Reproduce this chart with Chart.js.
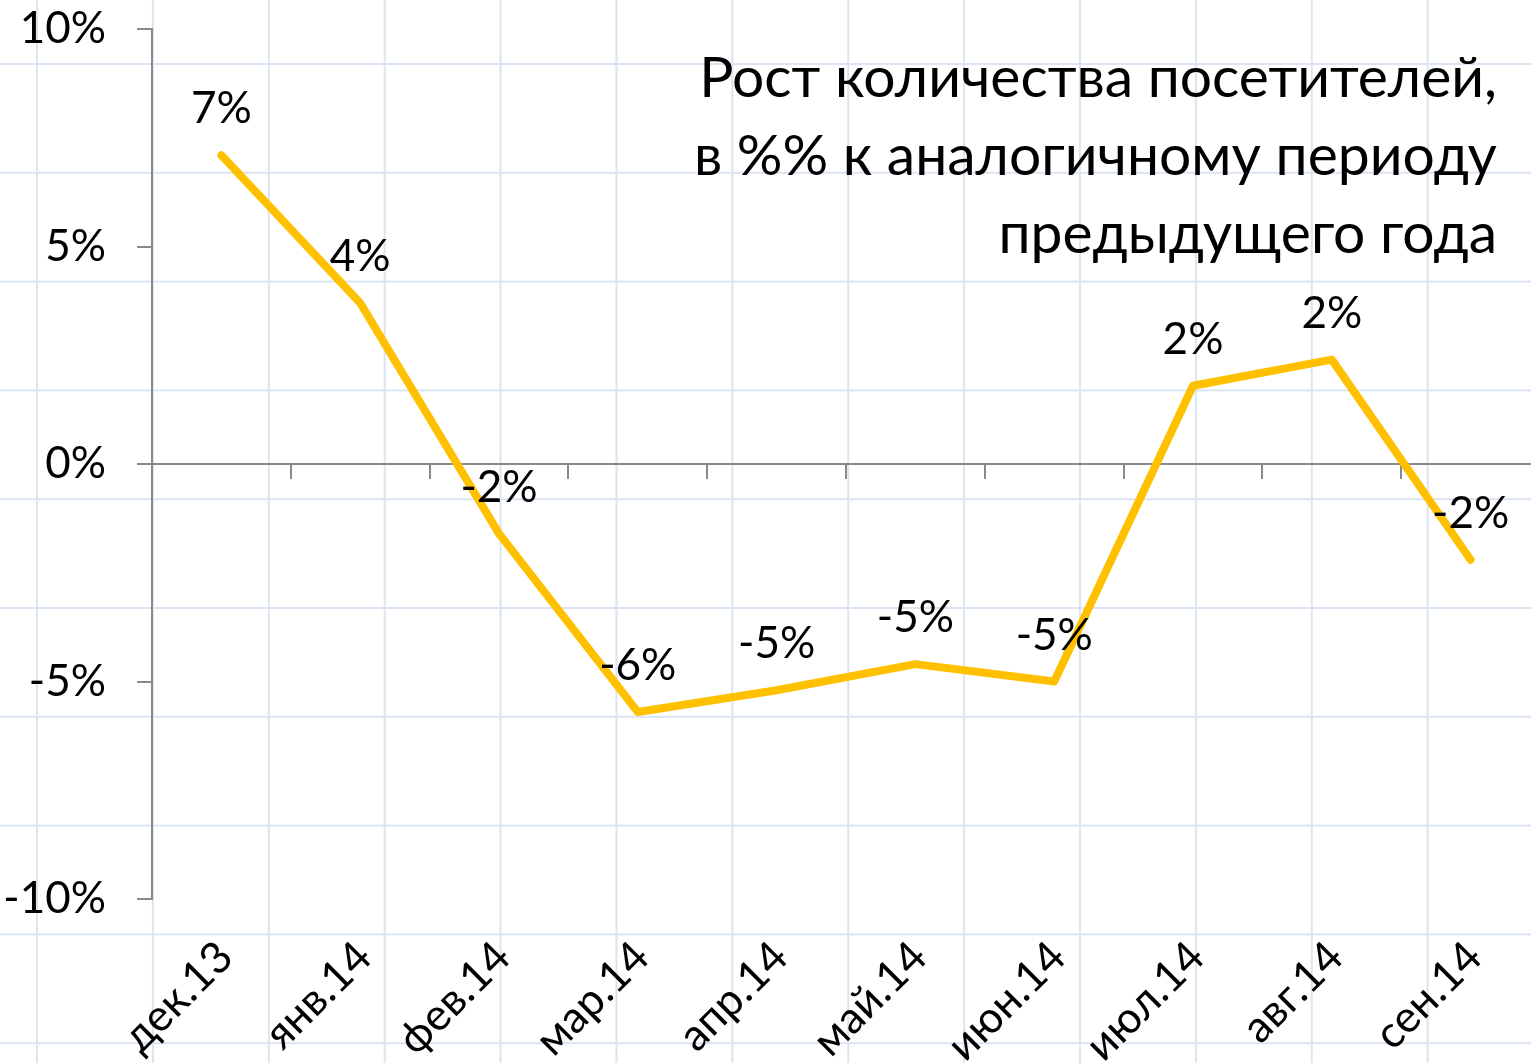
<!DOCTYPE html>
<html lang="ru">
<head>
  <meta charset="UTF-8">
  <title>Рост количества посетителей</title>
  <script src="https://cdn.jsdelivr.net/npm/chart.js"></script>
  <style>
    * {
      box-sizing: border-box;
      margin: 0;
      padding: 0;
    }
    body {
      width: 1531px;
      height: 1063px;
      overflow: hidden;
      position: relative;
      background-color: #fff;
      /* worksheet cell lines behind the chart */
      background-image:
        linear-gradient(to right, #dbe4f2 2px, transparent 2px),
        linear-gradient(to bottom, #dbe4f2 2px, transparent 2px);
      background-size: 115.9px 108.8px;
      background-position: 36px 63px;
      font-family: Lato, 'Noto Sans', sans-serif;
    }
    #chart-box {
      position: absolute;
      left: 0;
      top: 0;
      width: 1560px;
      height: 1063px;
    }
    #title {
      position: absolute;
      right: 34px;
      top: 36px;
      text-align: right;
      font-size: 57px;
      line-height: 78px;
      color: #000;
      white-space: nowrap;
    }
  </style>
</head>
<body>
  <div id="chart-box">
    <canvas id="growthChart" width="1560" height="1063"></canvas>
  </div>
  <div id="title">Рост количества посетителей,<br>в %% к аналогичному периоду<br>предыдущего года</div>

  <script>
    // months on the category axis
    const months = ['дек.13', 'янв.14', 'фев.14', 'мар.14', 'апр.14', 'май.14', 'июн.14', 'июл.14', 'авг.14', 'сен.14'];
    // growth vs same month a year before, %
    const growth = [7.1, 3.7, -1.6, -5.7, -5.2, -4.6, -5.0, 1.8, 2.4, -2.2];
    // value axis range
    const yMin = -10;
    const yMax = 10;
    const yStep = 5;

    const axisGray = '#898989';
    const fontName = 'Lato, "Noto Sans", sans-serif';

    // value labels above each point, rounded like the source
    const pointLabels = {
      id: 'pointLabels',
      afterDatasetsDraw(chart) {
        const ctx = chart.ctx;
        const meta = chart.getDatasetMeta(0);
        ctx.save();
        ctx.font = '44px ' + fontName;
        ctx.fillStyle = '#000';
        ctx.textAlign = 'center';
        ctx.textBaseline = 'middle';
        meta.data.forEach(function(pt, i) {
          ctx.fillText(Math.round(growth[i]) + '%', pt.x, pt.y - 46);
        });
        ctx.restore();
      }
    };

    const ctx = document.getElementById('growthChart').getContext('2d');
    new Chart(ctx, {
      type: 'line',
      data: {
        labels: months,
        datasets: [{
          data: growth,
          borderColor: '#ffc000',
          borderWidth: 8,
          borderCapStyle: 'round',
          borderJoinStyle: 'round',
          pointRadius: 0,
          tension: 0,
          fill: false,
          clip: false
        }]
      },
      options: {
        responsive: false,
        animation: false,
        devicePixelRatio: 1,
        layout: { padding: { left: 0, top: 29, right: 20, bottom: 0 } },
        plugins: {
          legend: { display: false },
          tooltip: { enabled: false }
        },
        scales: {
          x: {
            type: 'category',
            position: 'bottom',
            offset: true,
            grid: { display: false },
            border: { display: false },
            ticks: {
              color: '#000',
              font: { family: fontName, size: 44 },
              minRotation: 45,
              maxRotation: 45,
              autoSkip: false,
              padding: 24,
              labelOffset: 4
            },
            afterFit(scale) { scale.height = 164; }
          },
          zero: {
            type: 'category',
            axis: 'x',
            labels: months,
            position: { y: 0 },
            offset: true,
            grid: {
              offset: true,
              drawOnChartArea: false,
              drawTicks: true,
              tickLength: 14,
              color: axisGray,
              lineWidth: 2
            },
            border: { color: axisGray, width: 2 },
            ticks: { display: false }
          },
          y: {
            min: yMin,
            max: yMax,
            position: 'left',
            grid: {
              drawOnChartArea: false,
              drawTicks: true,
              tickLength: 15,
              color: axisGray,
              lineWidth: 2
            },
            border: { color: axisGray, width: 2 },
            ticks: {
              stepSize: yStep,
              color: '#000',
              padding: 31,
              font: { family: fontName, size: 44 },
              callback: function(v) { return v + '%'; }
            },
            afterFit(scale) {
              scale.width = 152;
              // label padding should not push the plot down
              scale.paddingTop = 0;
              scale.paddingBottom = 0;
            }
          }
        }
      },
      plugins: [pointLabels]
    });
  </script>
</body>
</html>
